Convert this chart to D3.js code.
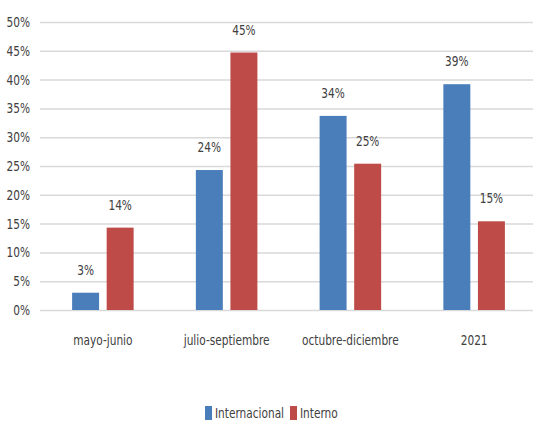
<!DOCTYPE html>
<html>
<head>
<meta charset="utf-8">
<script src="https://cdn.jsdelivr.net/npm/d3@7"></script>
<style>
  body { margin: 0; background: #fff; }
  text { font-family: "DejaVu Sans Condensed", "Liberation Sans Narrow", sans-serif; fill: #404040; }
</style>
</head>
<body>
<svg id="chart"></svg>
<script>
// data
var categories = ["mayo-junio", "julio-septiembre", "octubre-diciembre", "2021"];
var seriesNames = ["Internacional", "Interno"];
var internacional = [3, 24.3, 33.7, 39.2];
var interno = [14.3, 44.7, 25.4, 15.4];
var yTicks = [0, 5, 10, 15, 20, 25, 30, 35, 40, 45, 50];

var WIDTH = 533, HEIGHT = 422;
var COLORS = ["#4a7ebb", "#be4b48"];
var GRID_COLOR = "#d9d9d9";
var NARROW = "scale(0.84,1)"; // squeeze text to look like the narrow original font

var svg = d3.select("#chart")
    .attr("width", WIDTH)
    .attr("height", HEIGHT);

var x = d3.scaleBand()
    .domain(categories)
    .range([41, 536]);

var xInner = d3.scaleBand()
    .domain(seriesNames)
    .range([0, x.bandwidth()])
    .paddingInner(0.22)
    .paddingOuter(0.9);

var y = d3.scaleLinear()
    .domain([0, 50])
    .range([310, 22]);

//gridlines + y labels
var yAxis = d3.axisLeft(y)
    .tickValues(yTicks)
    .tickSize(-(WIDTH - 40))
    .tickPadding(12)
    .tickFormat(function (d) { return d + "%"; });
var gy = svg.append("g")
    .attr("class", "y-axis")
    .attr("transform", "translate(40,0)")
    .call(yAxis);
gy.select(".domain").remove();
gy.selectAll(".tick line")
    .style("stroke", GRID_COLOR)
    .style("stroke-width", 1.5);
gy.selectAll(".tick text")
    .attr("transform", NARROW)
    .style("font-size", "14px")
    .style("fill", "#404040");

//x axis labels
var xAxis = d3.axisBottom(x).tickSize(0).tickPadding(25);
var gx = svg.append("g")
    .attr("class", "x-axis")
    .attr("transform", "translate(0,310)")
    .call(xAxis);
gx.select(".domain").remove();
gx.selectAll(".tick text")
    .attr("transform", NARROW)
    .style("font-size", "14px")
    .style("fill", "#404040");

//bars
var rows = categories.map(function (c, i) {
    return { cat: c, values: [internacional[i], interno[i]] };
});

var groups = svg.selectAll(".group")
    .data(rows)
    .enter().append("g")
    .attr("class", "group")
    .attr("transform", function (d) { return "translate(" + x(d.cat) + ",0)"; });

groups.selectAll("rect")
    .data(function (d) { return d.values.map(function (v, j) { return { name: seriesNames[j], value: v, idx: j }; }); })
    .enter().append("rect")
    .attr("x", function (d) { return xInner(d.name); })
    .attr("width", xInner.bandwidth())
    .attr("y", function (d) { return y(d.value); })
    .attr("height", function (d) { return y(0) - y(d.value); })
    .style("fill", function (d) { return COLORS[d.idx]; });

//value labels
groups.selectAll(".label")
    .data(function (d) { return d.values.map(function (v, j) { return { name: seriesNames[j], value: v }; }); })
    .enter().append("g")
    .attr("class", "label")
    .attr("transform", function (d) {
        return "translate(" + (xInner(d.name) + xInner.bandwidth() / 2) + "," + (y(d.value) - 18) + ")";
    })
    .append("text")
    .attr("transform", NARROW)
    .style("text-anchor", "middle")
    .style("font-size", "14px")
    .text(function (d) { return Math.round(d.value) + "%"; });

//legend
var legend = svg.append("g")
    .attr("class", "legend")
    .attr("transform", "translate(205,413)");
var legendX = [0, 85];
seriesNames.forEach(function (name, i) {
    legend.append("rect")
        .attr("x", legendX[i])
        .attr("y", -7)
        .attr("width", 7)
        .attr("height", 14)
        .style("fill", COLORS[i]);
    legend.append("g")
        .attr("transform", "translate(" + (legendX[i] + 10) + ",0)")
        .append("text")
        .attr("transform", NARROW)
        .attr("dy", ".35em")
        .style("font-size", "14px")
        .text(name);
});
</script>
</body>
</html>
